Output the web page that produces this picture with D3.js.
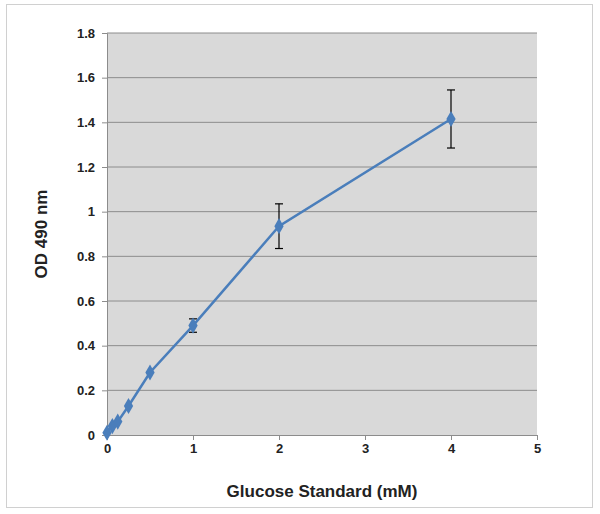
<!DOCTYPE html>
<html><head><meta charset="utf-8">
<script src="https://cdn.jsdelivr.net/npm/d3@7"></script>
<style>body{margin:0;background:#fff}</style>
</head><body>
<svg id="chart" width="600" height="514"></svg>
<script>
// Data
const conc = [0, 0.0625, 0.125, 0.25, 0.5, 1, 2, 4];
const od = [0.01, 0.04, 0.06, 0.13, 0.28, 0.49, 0.935, 1.415];
const err = [0, 0, 0, 0, 0, 0.03, 0.1, 0.13];
const xTicks = [0, 1, 2, 3, 4, 5];
const yTicks = [0, 0.2, 0.4, 0.6, 0.8, 1, 1.2, 1.4, 1.6, 1.8];

const svg = d3.select('#chart');
const margin = { top: 33, right: 63, bottom: 79, left: 107 },
    width = 600 - margin.left - margin.right,
    height = 514 - margin.top - margin.bottom;

svg.append('rect').attr('x', 6.5).attr('y', 4.5).attr('width', 586).attr('height', 503)
    .attr('fill', 'none').attr('stroke', '#d0d0d0');

const g = svg.append('g').attr('transform', 'translate(' + margin.left + ',' + margin.top + ')');
const x = d3.scaleLinear().domain([0, 5]).range([0, width]);
const y = d3.scaleLinear().domain([0, 1.8]).range([height, 0]);

g.append('rect').attr('width', width).attr('height', height).attr('fill', '#d9d9d9');

g.selectAll('.grid').data(yTicks.slice(1)).enter().append('line')
    .attr('x1', 0).attr('x2', width)
    .attr('y1', d => y(d)).attr('y2', d => y(d))
    .attr('stroke', '#8c8c8c').attr('stroke-width', 1);

const xAxis = g.append('g').attr('transform', 'translate(0,' + height + ')')
    .call(d3.axisBottom(x).tickValues(xTicks).tickFormat(d3.format('d')).tickSize(5));
const yAxis = g.append('g')
    .call(d3.axisLeft(y).tickValues(yTicks).tickFormat(d => d === 0 ? '0' : d3.format('~g')(d)).tickSize(5));
[xAxis, yAxis].forEach(a => {
    a.selectAll('path,line').attr('stroke', '#8c8c8c');
    a.selectAll('text').attr('font-family', 'Liberation Sans, Arial').attr('font-size', 13)
        .attr('font-weight', 'bold').attr('fill', '#222');
});
yAxis.selectAll('text').attr('x', -12);
xAxis.selectAll('text').attr('y', 9);

const pts = conc.map((c, i) => ({ c: c, v: od[i], e: err[i] }));

// Error bars
const eb = g.selectAll('.eb').data(pts.filter(d => d.e > 0)).enter().append('g')
    .attr('stroke', '#000').attr('stroke-width', 1.2);
eb.append('line').attr('x1', d => x(d.c)).attr('x2', d => x(d.c))
    .attr('y1', d => y(d.v - d.e)).attr('y2', d => y(d.v + d.e));
eb.append('line').attr('x1', d => x(d.c) - 4).attr('x2', d => x(d.c) + 4)
    .attr('y1', d => y(d.v - d.e)).attr('y2', d => y(d.v - d.e));
eb.append('line').attr('x1', d => x(d.c) - 4).attr('x2', d => x(d.c) + 4)
    .attr('y1', d => y(d.v + d.e)).attr('y2', d => y(d.v + d.e));

g.append('path').datum(pts)
    .attr('d', d3.line().x(d => x(d.c)).y(d => y(d.v)))
    .attr('fill', 'none').attr('stroke', '#4a7ebb').attr('stroke-width', 2.5);

g.selectAll('.pt').data(pts).enter().append('path')
    .attr('transform', d => 'translate(' + x(d.c) + ',' + y(d.v) + ')')
    .attr('d', d3.symbol().type(d3.symbolDiamond).size(75))
    .attr('fill', '#4a7ebb');

svg.append('text').attr('x', margin.left + width / 2).attr('y', 497)
    .attr('text-anchor', 'middle').attr('font-family', 'Liberation Sans, Arial')
    .attr('font-size', 17).attr('font-weight', 'bold').attr('fill', '#222')
    .text('Glucose Standard (mM)');
svg.append('text').attr('transform', 'translate(47,' + (margin.top + height / 2) + ') rotate(-90)')
    .attr('text-anchor', 'middle').attr('font-family', 'Liberation Sans, Arial')
    .attr('font-size', 17).attr('font-weight', 'bold').attr('fill', '#222')
    .text('OD 490 nm');
</script>
</body></html>
